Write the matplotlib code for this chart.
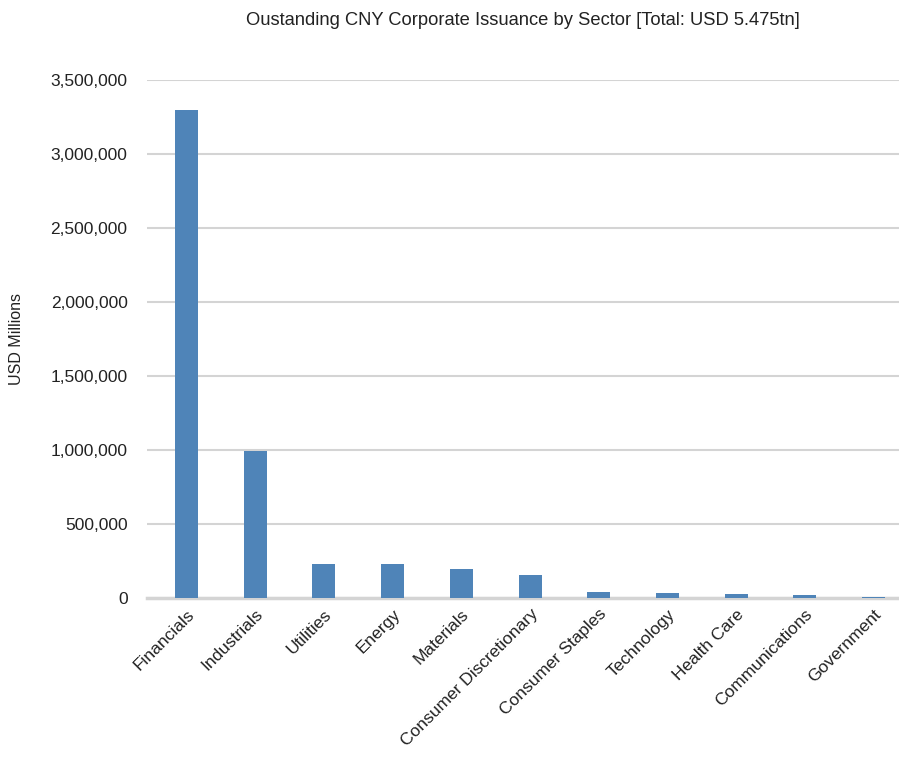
import numpy as np
import matplotlib.pyplot as plt
from matplotlib.ticker import FuncFormatter

plt.rcParams['font.family'] = ['Liberation Sans', 'DejaVu Sans']

## sectors and outstanding issuance (USD millions)
sectors = ["Financials", "Industrials", "Utilities", "Energy", "Materials",
           "Consumer Discretionary", "Consumer Staples", "Technology",
           "Health Care", "Communications", "Government"]
issuance = [3300000, 995000, 232000, 232000, 198000,
            157000, 43000, 37000, 30000, 23000, 11000]

bar_color = "#4f84b8"
grid_color = "#d4d4d4"

fig = plt.figure(figsize=(8.99, 7.65), dpi=100)
ax = fig.add_axes([0.1635, 0.218, 0.8365, 0.677])

x = np.arange(len(sectors))
ax.bar(x, issuance, width=0.335, color=bar_color, zorder=3)

# chart is clipped a little on the right, like the original
ax.set_xlim(-0.575, len(sectors) - 0.63)
ax.set_ylim(0, 3500000)
ax.set_yticks(np.arange(0, 3500001, 500000))
ax.yaxis.set_major_formatter(FuncFormatter(lambda v, p: f"{int(v):,}"))
ax.grid(axis="y", color=grid_color, linewidth=1.5, zorder=0)

for s in ["top", "right", "left"]:
    ax.spines[s].set_visible(False)
ax.spines["bottom"].set_color(grid_color)
ax.spines["bottom"].set_linewidth(2.5)
ax.spines["bottom"].set_zorder(2)

ax.set_xticks(x)
ax.set_xticklabels(sectors, rotation=45, ha="right", rotation_mode="anchor")
ax.tick_params(axis="x", length=0, pad=6, labelsize=12.5, colors="#222222")
ax.tick_params(axis="y", length=0, pad=14, labelsize=12.5, colors="#222222")

ax.set_ylabel("USD Millions", fontsize=11.5, labelpad=19, color="#222222")
ax.set_title("Oustanding CNY Corporate Issuance by Sector [Total: USD 5.475tn]",
             fontsize=13.2, pad=40, color="#222222")

plt.savefig("out.png", dpi=100)
